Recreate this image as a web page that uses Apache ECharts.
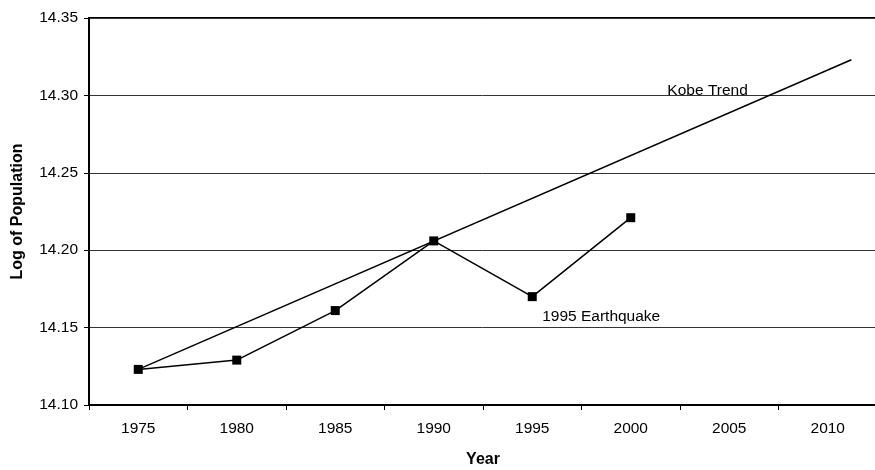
<!DOCTYPE html>
<html>
<head>
<meta charset="utf-8">
<script src="https://cdn.jsdelivr.net/npm/echarts@6/dist/echarts.min.js"></script>
<style>
html, body { margin: 0; padding: 0; background: #fff; }
#main { width: 875px; height: 470px; }
</style>
</head>
<body>
<div id="main"></div>
<script>
// 年份与人口对数
const years = ['1975', '1980', '1985', '1990', '1995', '2000', '2005', '2010']
const logPopulation = [14.123, 14.129, 14.161, 14.206, 14.170, 14.221]
// 趋势线两端 [年份, 值]
const trendYears = [1975, 2011.2]
const trendValues = [14.123, 14.323]
// 注释文字 [年份, 值]
const notes = [
    { text: 'Kobe Trend', year: 2003.9, value: 14.303 },
    { text: '1995 Earthquake', year: 1998.5, value: 14.157 }
]

const font = 'Liberation Sans, Arial, sans-serif'
const myChart = echarts.init(document.getElementById('main'))

myChart.setOption({
    animation: false,
    grid: {
        left: 89,
        top: 18,
        right: -2,
        bottom: 65,
        outerBoundsMode: 'none',
        show: true,
        borderColor: '#000',
        borderWidth: 2
    },
    xAxis: [{
        type: 'category',
        data: years,
        name: 'Year',
        nameLocation: 'middle',
        nameGap: 47,
        nameTextStyle: { fontFamily: font, fontSize: 16, fontWeight: 'bold', color: '#000' },
        axisLine: { lineStyle: { color: '#000', width: 2 } },
        axisTick: { show: true, alignWithLabel: false, length: 5, lineStyle: { color: '#000' } },
        axisLabel: { fontFamily: font, fontSize: 15.5, color: '#000', margin: 16 },
        splitLine: { show: false }
    }, {
        type: 'value',
        min: 1972.5,
        max: 2012.5,
        show: false
    }],
    yAxis: {
        type: 'value',
        min: 14.10,
        max: 14.35,
        interval: 0.05,
        name: 'Log of Population',
        nameLocation: 'middle',
        nameGap: 63,
        nameRotate: 90,
        nameTextStyle: { fontFamily: font, fontSize: 16, fontWeight: 'bold', color: '#000' },
        axisLine: { show: true, lineStyle: { color: '#000', width: 2 } },
        axisTick: { show: true, length: 5, lineStyle: { color: '#000' } },
        axisLabel: {
            fontFamily: font,
            fontSize: 15.5,
            color: '#000',
            margin: 11,
            formatter: v => v.toFixed(2)
        },
        splitLine: { show: true, lineStyle: { color: '#333', width: 1 } }
    },
    series: [{
        name: 'Kobe',
        type: 'line',
        data: logPopulation,
        symbol: 'rect',
        symbolSize: 9,
        itemStyle: { color: '#000' },
        lineStyle: { color: '#000', width: 1.5 }
    }, {
        name: 'Kobe Trend',
        type: 'line',
        xAxisIndex: 1,
        data: trendYears.map((y, i) => [y, trendValues[i]]),
        symbol: 'none',
        lineStyle: { color: '#000', width: 1.5 },
        markPoint: {
            symbol: 'circle',
            symbolSize: 0,
            label: {
                show: true,
                position: 'inside',
                fontFamily: font,
                fontSize: 15.5,
                color: '#000',
                formatter: p => p.name
            },
            data: notes.map(n => ({ name: n.text, coord: [n.year, n.value] }))
        }
    }]
})
</script>
</body>
</html>
